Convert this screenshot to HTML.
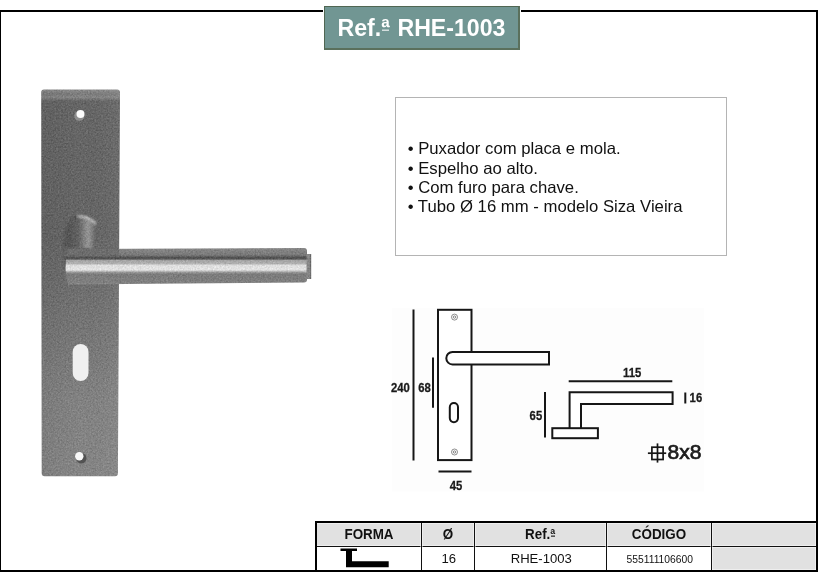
<!DOCTYPE html>
<html lang="pt">
<head>
<meta charset="utf-8">
<title>Ref.ª RHE-1003</title>
<style>
*{box-sizing:border-box;margin:0;padding:0}
html,body{width:821px;height:574px;background:#fff;overflow:hidden}
body{position:relative;font-family:"Liberation Sans",Arial,Helvetica,sans-serif;color:#111}
.abs{position:absolute}
#desc,#title,#draw,.cell{will-change:transform}
.tt{display:inline-block;transform:scaleY(1.05);transform-origin:50% 72%}
.ord{position:relative;margin-right:0.05em}
.ord::after{content:"";position:absolute;left:6%;right:6%;bottom:37%;height:0.07em;background:currentColor}
#frame{left:-1px;top:10px;width:819px;height:562px;border:2px solid #000}
#title{left:324px;top:6px;width:196px;height:44px;background:#719693;border:1px solid #506652;border-right:2px solid #5a705c;border-bottom:2px solid #5a705c;box-shadow:0 0 0 1px #fff;color:#fff;font-weight:bold;font-size:23.15px;line-height:42px;text-align:center;white-space:nowrap}
#desc{left:395px;top:97px;width:332px;height:159px;border:1px solid #b4b4b4;background:#fff}
#desc ul{list-style:none;position:absolute;left:11.7px;top:41.3px;font-size:16.72px;line-height:19.25px;white-space:nowrap}
#photo{left:0;top:0}
#draw{left:384px;top:300px;width:320px;height:200px}
.cell{position:absolute;text-align:center;white-space:nowrap}
.hd{background:#e1e1e1;font-weight:bold;font-size:13.4px;line-height:24px;top:523px;height:23px;overflow:hidden}
.bt{display:inline-block;transform:scaleY(1.1);transform-origin:50% 72%}
.dt{font-size:13.1px;line-height:23px;top:547px;height:23px;text-indent:1.5px}
.hl{background:rgba(255,255,255,.45)}
.vl{position:absolute;width:1px;background:#111;top:523px;height:47px}
</style>
</head>
<body>
<div id="frame" class="abs"></div>

<div id="title" class="abs"><span class="tt">Ref.<span class="ord">ª</span> RHE-1003</span></div>

<svg id="photo" class="abs" width="340" height="500" viewBox="0 0 340 500">
  <defs>
    <linearGradient id="gPlateV" x1="0" x2="0" y1="0" y2="1">
      <stop offset="0" stop-color="#8e8e8e"/>
      <stop offset="0.012" stop-color="#7a7a7a"/>
      <stop offset="0.02" stop-color="#868686"/>
      <stop offset="0.03" stop-color="#626262"/>
      <stop offset="0.38" stop-color="#626262"/>
      <stop offset="0.56" stop-color="#707070"/>
      <stop offset="0.8" stop-color="#828282"/>
      <stop offset="1" stop-color="#868686"/>
    </linearGradient>
    <linearGradient id="gPlateH" x1="0" x2="1" y1="0" y2="0">
      <stop offset="0" stop-color="#000" stop-opacity="0.06"/>
      <stop offset="0.5" stop-color="#000" stop-opacity="0"/>
      <stop offset="1" stop-color="#fff" stop-opacity="0.05"/>
    </linearGradient>
    <linearGradient id="gBar" x1="0" x2="0" y1="0" y2="1">
      <stop offset="0" stop-color="#8c8c8c"/>
      <stop offset="0.04" stop-color="#858585"/>
      <stop offset="0.19" stop-color="#787878"/>
      <stop offset="0.26" stop-color="#4c4c4c"/>
      <stop offset="0.3" stop-color="#505050"/>
      <stop offset="0.34" stop-color="#a8a8a8"/>
      <stop offset="0.43" stop-color="#b8b8b8"/>
      <stop offset="0.47" stop-color="#eaeaea"/>
      <stop offset="0.6" stop-color="#f0f0f0"/>
      <stop offset="0.67" stop-color="#969696"/>
      <stop offset="0.72" stop-color="#7a7a7a"/>
      <stop offset="0.95" stop-color="#808080"/>
      <stop offset="1" stop-color="#8c8c8c"/>
    </linearGradient>
    <linearGradient id="gNeck" x1="0" x2="1" y1="0" y2="0">
      <stop offset="0" stop-color="#4c4c4c"/>
      <stop offset="0.4" stop-color="#5e5e5e"/>
      <stop offset="0.75" stop-color="#9a9a9a"/>
      <stop offset="1" stop-color="#626262"/>
    </linearGradient>
    <filter id="soft" x="-5%" y="-5%" width="110%" height="110%" color-interpolation-filters="sRGB">
      <feGaussianBlur in="SourceGraphic" stdDeviation="0.6" result="b"/>
      <feTurbulence type="fractalNoise" baseFrequency="0.6" numOctaves="2" seed="7" result="n"/>
      <feColorMatrix in="n" type="matrix" values="1 1 1 0 -1  1 1 1 0 -1  1 1 1 0 -1  0 0 0 0 0.12" result="g"/>
      <feComposite in="g" in2="b" operator="atop"/>
    </filter>
    <filter id="soft1" x="-20%" y="-20%" width="140%" height="140%"><feGaussianBlur stdDeviation="0.7"/></filter>
    <filter id="soft2" x="-20%" y="-20%" width="140%" height="140%"><feGaussianBlur stdDeviation="1.2"/></filter>
  </defs>
  <g filter="url(#soft)">
    <path id="plate" d="M44 89.5 L117 89.5 Q120 89.5 120 92.5 L117.9 473.2 Q117.9 476.2 115 476.2 L44.6 476.2 Q41.7 476.2 41.7 473.2 L41.2 92.5 Q41.2 89.5 44 89.5 Z" fill="url(#gPlateV)"/>
    <path d="M44 89.5 L117 89.5 Q120 89.5 120 92.5 L117.9 473.2 Q117.9 476.2 115 476.2 L44.6 476.2 Q41.7 476.2 41.7 473.2 L41.2 92.5 Q41.2 89.5 44 89.5 Z" fill="url(#gPlateH)"/>
    <g filter="url(#soft2)">
      <ellipse cx="77" cy="248" rx="14" ry="33" fill="#4a4a4a" opacity="0.6"/>
      <path d="M68 224 Q82 211 95.5 223 L93 252 L67 252 Z" fill="url(#gNeck)"/>
      <path d="M77.5 216.5 Q89 215.5 96 224" stroke="#dcdcdc" stroke-width="1.7" fill="none"/>
    </g>
    <path d="M68 249 L304 248 Q307 248 307 251 L307 279.4 Q307 282.4 304 282.4 L68 284.6 Q63 268 68 249 Z" fill="url(#gBar)"/>
    <rect x="306.5" y="254" width="4.5" height="25" fill="#868686"/>
    <rect x="310" y="254" width="1.2" height="25" fill="#6a6a6a"/>
    <rect x="64" y="247.6" width="55" height="8.6" fill="#646464" opacity="0.75"/>
  </g>
  <g filter="url(#soft1)">
    <circle cx="79.3" cy="116" r="5" fill="#9a9a9a" opacity="0.8"/>
    <circle cx="80.5" cy="114" r="4" fill="#fcfcfc"/>
    <circle cx="81.3" cy="458.3" r="5.2" fill="#4c4c4c" opacity="0.9"/>
    <circle cx="79.3" cy="456.2" r="4.2" fill="#f8f8f8"/>
    <rect x="72.7" y="344" width="15.8" height="37" rx="7.9" fill="#f0f0f0"/>
  </g>
</svg>

<div id="desc" class="abs">
  <ul>
    <li>• Puxador com placa e mola.</li>
    <li>• Espelho ao alto.</li>
    <li>• Com furo para chave.</li>
    <li>• Tubo Ø 16 mm - modelo Siza Vieira</li>
  </ul>
</div>

<svg id="draw" class="abs" width="320" height="200" viewBox="384 300 320 200" font-family="'Liberation Sans',Arial,sans-serif" font-weight="bold" fill="#1a1a1a" stroke="#1a1a1a" stroke-width="0.25">
  <rect x="392" y="308" width="312" height="183.5" fill="#fdfdfd" stroke="none"/>
  <g stroke="#161616" stroke-width="2" fill="none">
    <line x1="413.5" y1="309.5" x2="413.5" y2="460.5"/>
    <line x1="433" y1="357.5" x2="433" y2="407.7"/>
    <rect x="438" y="309.8" width="33.5" height="150.3" fill="#fff"/>
    <path d="M549 352 L452.5 352 A6.2 6.2 0 0 0 452.5 364.4 L549 364.4 Z" fill="#fff"/>
    <rect x="449.8" y="403" width="8.2" height="19.2" rx="4.1" fill="#fff"/>
    <line x1="438.5" y1="471.5" x2="471.5" y2="471.5"/>
    <line x1="568.7" y1="381.2" x2="672.3" y2="381.2"/>
    <path d="M569.6 428 L569.6 392.3 L672.6 392.3 L672.6 404 L581 404 L581 428" fill="#fff"/>
    <rect x="552.3" y="428.2" width="45.6" height="10" fill="#fff"/>
    <line x1="545" y1="392" x2="545" y2="437.5"/>
    <line x1="685.3" y1="392.5" x2="685.3" y2="403.5"/>
    <rect x="651.9" y="447.2" width="11.2" height="12.3" stroke-width="1.7"/>
    <line x1="657.5" y1="443.4" x2="657.5" y2="462.6" stroke-width="1.7"/>
    <line x1="647.9" y1="453.2" x2="666.2" y2="453.2" stroke-width="1.7"/>
  </g>
  <g stroke="#444" stroke-width="0.6" fill="none">
    <circle cx="454.5" cy="317.1" r="3"/><circle cx="454.5" cy="317.1" r="1.2"/>
    <circle cx="454.5" cy="452" r="3"/><circle cx="454.5" cy="452" r="1.2"/>
  </g>
  <text transform="translate(391 391.8) scale(1 1.13)" font-size="11.3">240</text>
  <text transform="translate(418.3 391.8) scale(1 1.13)" font-size="11.3">68</text>
  <text transform="translate(449.8 490.2) scale(1 1.13)" font-size="11.3">45</text>
  <text transform="translate(529.6 420) scale(1 1.13)" font-size="11.3">65</text>
  <text transform="translate(623 376.8) scale(1 1.13)" font-size="11.3">115</text>
  <text transform="translate(689.6 402.3) scale(1 1.13)" font-size="11.3">16</text>
  <text transform="translate(667.6 458.8) scale(1.08 1)" font-size="19.5" font-weight="normal" stroke="#1a1a1a" stroke-width="0.65">8x8</text>
</svg>

<div class="abs" style="left:315px;top:521px;width:503px;height:2px;background:#000"></div>
<div class="abs" style="left:315px;top:521px;width:2px;height:50px;background:#000"></div>
<div class="cell hd" style="left:317px;width:104px"><span class="bt">FORMA</span></div>
<div class="cell dt" style="left:317px;width:104px"></div>
<div class="cell hd" style="left:422px;width:52px"><span class="bt">Ø</span></div>
<div class="cell dt" style="left:422px;width:52px">16</div>
<div class="cell hd" style="left:475px;width:131px"><span class="bt">Ref.<span class="ord">ª</span></span></div>
<div class="cell dt" style="left:475px;width:131px">RHE-1003</div>
<div class="cell hd" style="left:607px;width:104px"><span class="bt">CÓDIGO</span></div>
<div class="cell dt" style="left:607px;width:104px"><span style="font-size:10.3px">555111106600</span></div>
<div class="cell hd" style="left:712px;width:104px"><span class="bt"></span></div>
<div class="cell dt" style="left:712px;width:104px;background:#e1e1e1"></div>
<div class="abs hl" style="left:317px;top:545px;width:499px;height:3px"></div>
<div class="abs hl" style="left:317px;top:523px;width:499px;height:1px"></div>
<div class="abs hl" style="left:317px;top:569px;width:499px;height:1px"></div>
<div class="abs hl" style="left:815px;top:523px;width:1px;height:47px"></div>
<div class="abs" style="left:317px;top:546px;width:499px;height:1px;background:#111"></div>
<div class="abs hl" style="left:420px;top:523px;width:3px;height:47px"></div>
<div class="vl" style="left:421px"></div>
<div class="abs hl" style="left:473px;top:523px;width:3px;height:47px"></div>
<div class="vl" style="left:474px"></div>
<div class="abs hl" style="left:605px;top:523px;width:3px;height:47px"></div>
<div class="vl" style="left:606px"></div>
<div class="abs hl" style="left:710px;top:523px;width:3px;height:47px"></div>
<div class="vl" style="left:711px"></div>
<svg class="abs" style="left:336px;top:546px" width="60" height="24" viewBox="336 546 60 24">
  <path d="M340.5 548.6 H357 V551 H352 V561.3 H388.7 V567.2 H346 V551 H340.5 Z" fill="#000"/>
</svg>
</body>
</html>
